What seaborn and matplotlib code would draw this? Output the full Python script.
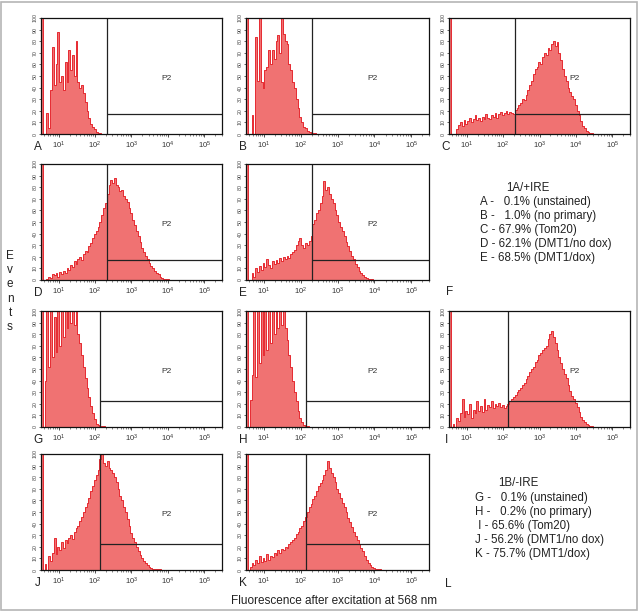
import numpy as np
import seaborn as sns
import matplotlib

matplotlib.use("Agg")

import matplotlib.pyplot as plt

# bin heights, bins are 0.05 decades wide starting at 10^0.52
# (first bin = the off-scale-low pile-up stripe at the left edge)
counts_a = [100, 0, 0, 18, 5, 38, 75, 42, 60, 88, 45, 50, 38, 62, 45, 72, 55, 68, 50, 80,
            45, 40, 42, 35, 28, 20, 14, 9, 6, 4, 2, 1, 0.5, 0]
counts_b = [100, 0, 0, 16, 0, 84, 46, 100, 45, 40, 55, 58, 72, 60, 72, 65, 80, 85, 70, 100,
            86, 80, 78, 60, 55, 45, 40, 30, 22, 15, 10, 6, 5, 3, 2, 1, 1, 0.5]
counts_c = [100, 0, 0, 0, 4, 8, 10, 7, 12, 9, 11, 14, 10, 13, 16, 12, 14, 11, 15, 13,
            17, 14, 13, 16, 15, 18, 14, 17, 19, 16, 18, 20, 17, 19, 18, 17, 21, 22, 25, 27,
            30, 29, 34, 38, 42, 46, 52, 56, 58, 62, 60, 66, 70, 68, 74, 72, 78, 80, 76, 79,
            70, 64, 56, 50, 46, 40, 36, 33, 30, 25, 20, 16, 11, 7, 5, 3, 2, 1, 0.5, 0]
counts_d = [100, 0, 0, 1, 3, 2, 5, 4, 6, 3, 7, 5, 8, 6, 10, 9, 13, 11, 16, 14,
            18, 20, 17, 22, 25, 24, 29, 32, 36, 40, 42, 46, 50, 56, 62, 66, 74, 82, 86, 84,
            88, 82, 80, 77, 78, 72, 70, 67, 62, 58, 52, 47, 42, 38, 33, 28, 24, 21, 18, 15,
            12, 10, 8, 6, 5, 3, 2, 1, 1, 0.5, 0]
counts_e = [100, 0, 0, 6, 3, 10, 7, 12, 9, 15, 11, 18, 13, 10, 16, 14, 17, 15, 19, 16,
            20, 18, 21, 19, 22, 24, 26, 30, 34, 36, 30, 28, 32, 30, 34, 38, 48, 52, 58, 60,
            66, 72, 85, 78, 80, 74, 70, 66, 60, 56, 50, 46, 42, 38, 33, 29, 25, 21, 18, 14,
            11, 8, 6, 4, 3, 2, 1, 1, 0.5, 0]
counts_g = [100, 0, 40, 100, 52, 100, 60, 95, 65, 100, 70, 100, 78, 100, 85, 100, 90, 100, 88, 100,
            80, 72, 62, 52, 42, 34, 26, 18, 12, 7, 3, 2, 1, 1, 0.5, 0]
counts_h = [100, 0, 23, 45, 100, 43, 100, 55, 100, 62, 100, 66, 100, 72, 100, 80, 100, 85, 100, 88,
            100, 85, 75, 62, 52, 40, 30, 22, 14, 8, 4, 2, 1, 0.5, 0]
counts_i = [100, 0, 3, 0, 8, 5, 12, 24, 9, 14, 11, 20, 8, 15, 12, 22, 14, 18, 13, 24,
            15, 19, 17, 22, 16, 20, 18, 21, 17, 19, 16, 18, 20, 22, 24, 26, 28, 30, 32, 34,
            36, 38, 41, 44, 47, 50, 52, 56, 58, 62, 64, 66, 68, 70, 76, 80, 83, 78, 72, 66,
            60, 55, 50, 46, 42, 36, 31, 27, 24, 21, 17, 13, 9, 6, 4, 3, 2, 1, 0.5, 0]
counts_j = [100, 0, 5, 0, 12, 8, 15, 28, 14, 20, 17, 24, 19, 26, 23, 28, 30, 27, 33, 36,
            38, 42, 46, 50, 54, 58, 62, 68, 72, 78, 82, 86, 96, 100, 92, 90, 94, 88, 86, 84,
            80, 76, 70, 64, 60, 54, 50, 44, 38, 32, 28, 24, 20, 16, 13, 10, 8, 6, 4, 3,
            2, 1, 1, 0.5, 0.5, 0.5, 0]
counts_k = [100, 0, 3, 6, 4, 9, 6, 12, 7, 10, 8, 14, 9, 12, 11, 15, 13, 17, 15, 18,
            17, 20, 19, 22, 24, 26, 28, 31, 33, 36, 38, 42, 46, 50, 54, 57, 61, 64, 68, 72,
            75, 78, 82, 86, 94, 88, 84, 80, 76, 70, 66, 62, 58, 54, 50, 45, 41, 37, 33, 29,
            26, 22, 19, 16, 12, 9, 6, 4, 3, 2, 1, 1, 0.5, 0]

panel_letters = ["A", "B", "C", "D", "E", "G", "H", "I", "J", "K"]
panel_counts = [counts_a, counts_b, counts_c, counts_d, counts_e,
                counts_g, counts_h, counts_i, counts_j, counts_k]
# P2 gate: (x threshold, y threshold)
gate_x = [210, 210, 210, 210, 210, 140, 140, 140, 140, 140]
gate_y = [17, 17, 17, 17, 17, 22, 22, 22, 22, 22]

legend_1a = ["A -   0.1% (unstained)", "B -   1.0% (no primary)", "C - 67.9% (Tom20)",
             "D - 62.1% (DMT1/no dox)", "E - 68.5% (DMT1/dox)"]
legend_1b = ["G -   0.1% (unstained)", "H -   0.2% (no primary)", " I - 65.6% (Tom20)",
             "J - 56.2% (DMT1/no dox)", "K - 75.7% (DMT1/dox)"]

W, H = 639, 612
bin_start, bin_w = 0.52, 0.05
fill_col = "#f07272"
edge_col = "#e3141c"

sns.set_style("white")
plt.rcParams["font.family"] = ["Liberation Sans", "DejaVu Sans"]

fig = plt.figure(figsize=(W / 100, H / 100), dpi=100)


def box(l, t, r, b):
    return [l / W, 1 - b / H, (r - l) / W, (b - t) / H]


def ftext(x, y, s, **kw):
    fig.text(x / W, 1 - y / H, s, **kw)


col_px = [(41, 222), (246, 429), (449, 630)]
row_px = [(18, 134), (164, 280), (311, 427), (454, 570)]
slots = [(0, 0), (0, 1), (0, 2), (1, 0), (1, 1), (2, 0), (2, 1), (2, 2), (3, 0), (3, 1)]

for letter, counts, gx, gy, (r, c) in zip(panel_letters, panel_counts, gate_x, gate_y, slots):
    l, rr = col_px[c]
    t, b = row_px[r]
    ax = fig.add_axes(box(l, t, rr, b))
    counts = np.array(counts, dtype=float)
    edges = bin_start + bin_w * np.arange(len(counts) + 1)
    centers = 10 ** (edges[:-1] + bin_w / 2)
    sns.histplot(x=centers, weights=counts, bins=[float(e) for e in edges], log_scale=True,
                 element="step", fill=True, facecolor=fill_col, edgecolor=edge_col,
                 linewidth=0.6, ax=ax)
    ax.set_xlim(10 ** 0.52, 10 ** 5.48)
    ax.set_ylim(0, 100)
    ax.set_xlabel("")
    ax.set_ylabel("")
    # P2 gate
    ax.axvline(gx, color="#222222", lw=0.9)
    ax.hlines(gy, gx, 10 ** 5.48, color="#222222", lw=0.9)
    ax.text(10 ** 3.95, 48, "P2", fontsize=6, ha="center", va="center", color="#333333")
    ax.set_yticks(np.arange(0, 101, 10))
    ax.set_yticklabels([str(v) for v in range(0, 101, 10)], rotation=90,
                       fontsize=3.8, va="center", color="#444444")
    ax.tick_params(axis="x", which="major", labelsize=5.5, length=2.5, width=0.6,
                   pad=1.5, colors="#333333", direction="out", bottom=True)
    ax.tick_params(axis="x", which="minor", length=1.5, width=0.4, bottom=True,
                   direction="out")
    ax.tick_params(axis="y", length=1.5, width=0.5, pad=1, left=True, direction="out")
    for s in ax.spines.values():
        s.set_color("#111111")
        s.set_linewidth(0.9)
    ftext(l - 3, b + 13, letter, fontsize=8.5, ha="center", va="center", color="#222222")

# text panels
ftext(528, 188, "1A/+IRE", fontsize=8.3, ha="center", va="center", color="#222222")
for i, s in enumerate(legend_1a):
    ftext(480, 202 + 14 * i, s, fontsize=8.3, ha="left", va="center", color="#222222")
ftext(450, 292, "F", fontsize=8.5, ha="center", va="center", color="#222222")

ftext(518, 483, "1B/-IRE", fontsize=8.3, ha="center", va="center", color="#222222")
for i, s in enumerate(legend_1b):
    ftext(475, 498 + 14 * i, s, fontsize=8.3, ha="left", va="center", color="#222222")
ftext(448, 584, "L", fontsize=8.5, ha="center", va="center", color="#222222")

for i, ch in enumerate("Events"):
    ftext(10, 256 + 14.2 * i, ch, fontsize=8.5, ha="center", va="center", color="#222222")

ftext(334, 601, "Fluorescence after excitation at 568 nm", fontsize=8.5,
      ha="center", va="center", color="#222222")

fig.add_artist(plt.Rectangle((1 / W, 2 / H), 636 / W, 608 / H, transform=fig.transFigure,
                             fill=False, edgecolor="#b5b5b5", lw=1.2))

fig.savefig("out.png", dpi=100)
